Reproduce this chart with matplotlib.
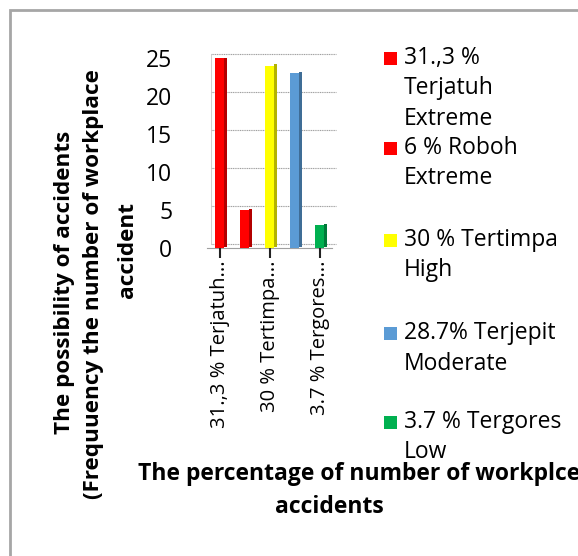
import matplotlib
matplotlib.use("Agg")
import matplotlib.pyplot as plt
from matplotlib.patches import Rectangle
from matplotlib.transforms import ScaledTranslation
import numpy as np

# ---- data ----
bar_values = [25, 5, 24, 23, 3]
bar_colors = ["#ff0000", "#ff0000", "#ffff00", "#5b9bd5", "#00b050"]
side_colors = ["#b30000", "#b30000", "#b3b300", "#3f6d96", "#007a3a"]
tick_positions = [0, 2, 4]
tick_labels = ["31.,3 % Terjatuh...", "30 % Tertimpa...", "3.7 % Tergores..."]
legend_lines = [
    ["31.,3 %", "Terjatuh", "Extreme"],
    ["6 % Roboh", "Extreme"],
    ["30 % Tertimpa", "High"],
    ["28.7% Terjepit", "Moderate"],
    ["3.7 % Tergores", "Low"],
]
y_ticks = [0, 5, 10, 15, 20, 25]
ylabel_lines = ["The possibility of accidents", "(Frequuency the number of workplace", "accident"]
xlabel_lines = ["The percentage of number of workplce", "accidents"]

FONT = "Open Sans"
plt.rcParams["font.family"] = [FONT, "DejaVu Sans"]

W, H = 578, 556
fig = plt.figure(figsize=(W / 100, H / 100), dpi=100)

def fx(px):
    return px / W

def fy(py):
    return 1 - py / H

# frame
fig.patches.append(Rectangle((fx(10), fy(600)), 1.2, fy(10) - fy(600), transform=fig.transFigure,
                             fill=False, edgecolor="#a6a6a6", linewidth=2, clip_on=False))

left, right, top, bottom = 207, 332, 58, 248
ax = fig.add_axes([fx(left), fy(bottom), fx(right) - fx(left), fy(top) - fy(bottom)])
ax.set_xlim(-0.5, 4.5)
ax.set_ylim(0, 25)

# 3D-ish back wall gridlines
dx_px, dy_px = 4, 4
off = ScaledTranslation(dx_px / 100, dy_px / 100, fig.dpi_scale_trans)
for t in y_ticks:
    ax.plot([-0.5, 4.5], [t, t], color="#a0a0a0", lw=0.8, ls=(0, (1, 0.6)),
            transform=ax.transData + off, clip_on=False, zorder=1)
ax.plot([-0.5, 4.5], [0, 0], color="#a0a0a0", lw=0.8, clip_on=False, zorder=1)
ax.plot([-0.5, -0.5], [0, 25], color="#c8c8c8", lw=0.6, transform=ax.transData + off, clip_on=False)

x = np.arange(len(bar_values))
w = 0.36
side = 0.1
ax.bar(x + w / 2, bar_values, width=side, align="edge", color=side_colors, zorder=3,
       transform=ax.transData + ScaledTranslation(0, 1.5 / 100, fig.dpi_scale_trans))
ax.bar(x, bar_values, width=w, color=bar_colors, zorder=4)

for s in ax.spines.values():
    s.set_visible(False)
ax.set_yticks(y_ticks)
ax.set_yticklabels([str(t) for t in y_ticks], fontsize=16.5)
ax.tick_params(axis="y", length=0, pad=25)
ax.set_xticks(tick_positions)
ax.set_xticklabels(tick_labels, rotation=90, fontsize=14.5)
ax.tick_params(axis="x", length=7, width=1.5, color="#222222", direction="out", pad=2)
ax.set_facecolor("none")

# y label lines
ypos = [(65, 282), (94, 284), (128, 250)]
for line, (px, py) in zip(ylabel_lines, ypos):
    fig.text(fx(px), fy(py), line, rotation=90, ha="center", va="center",
             fontsize=16.2, fontweight="bold")

# x label
fig.text(fx(138), fy(474), xlabel_lines[0], ha="left", va="center", fontsize=16.5, fontweight="bold")
fig.text(fx(329), fy(507), xlabel_lines[1], ha="center", va="center", fontsize=16.5, fontweight="bold")

# legend
entry_y = [58, 148, 240, 333, 422]
line_gap = 30.5
for lines, ey, c in zip(legend_lines, entry_y, bar_colors):
    fig.patches.append(Rectangle((fx(384), fy(ey + 7)), fx(13), fy(0) - fy(13),
                                 transform=fig.transFigure, facecolor=c, edgecolor="none"))
    for k, ln in enumerate(lines):
        fig.text(fx(404), fy(ey + k * line_gap), ln, ha="left", va="center", fontsize=16.5)

fig.savefig("out.png", dpi=100)
